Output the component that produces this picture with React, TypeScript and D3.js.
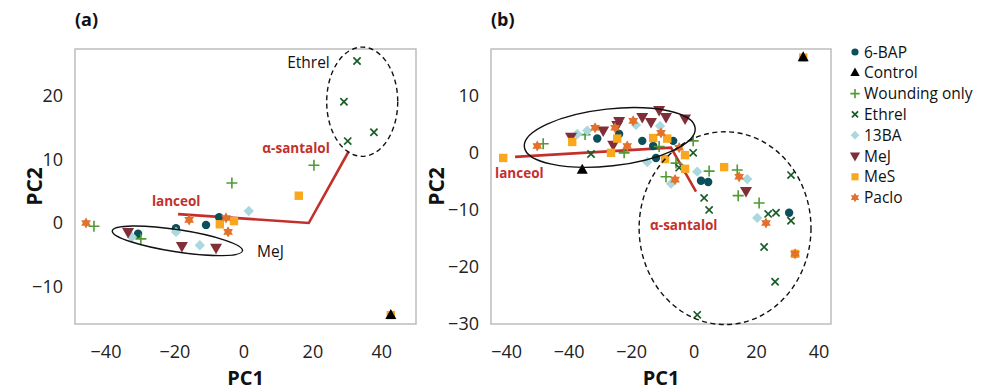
import React from 'react';
import * as d3 from 'd3';

// ---------- series meta ----------
const seriesNames = ['6-BAP', 'Control', 'Wounding only', 'Ethrel', '13BA', 'MeJ', 'MeS', 'Paclo'];
const seriesColors = ['#0b4f5b', '#000000', '#4f9a33', '#175c26', '#a9d9df', '#822e38', '#f9a81d', '#e2712b'];
const seriesShapes = ['circle', 'triUp', 'plus', 'cross', 'diamond', 'triDown', 'square', 'star'];
const drawOrder = [0, 2, 3, 4, 5, 6, 7, 1];

// ---------- panel (a) data ----------
const a_BAP = [[-30.7, -1.7], [-19.7, -0.8], [-11.0, -0.3], [-7.2, 0.9]];
const a_Control = [[42.6, -14.5]];
const a_Wounding = [[-43.5, -0.5], [-29.9, -2.5], [-3.5, 6.3], [20.3, 9.1]];
const a_Ethrel = [[32.8, 25.5], [29.0, 19.1], [37.7, 14.3], [30.1, 12.9]];
const a_13BA = [[-32.5, -2.2], [-19.7, -1.4], [-12.8, -3.5], [1.4, 1.9]];
const a_MeJ = [[-33.6, -1.4], [-18.0, -3.6], [-8.1, -3.9]];
const a_MeS = [[-7.0, -0.2], [-2.9, 0.3], [15.9, 4.3], [42.6, -14.5]];
const a_Paclo = [[-45.8, 0.0], [-15.9, 0.5], [-5.2, 0.8], [-4.6, -1.4]];
const a_Loadings = [[-19.1, 1.4], [18.8, 0.0], [30.4, 11.3]];

// ---------- panel (b) data ----------
const b_BAP = [[-31.0, 2.5], [-24.0, 3.3], [-16.6, 2.1], [-13.1, 1.2], [-12.2, -0.9], [-6.7, 2.1], [2.2, -4.9], [4.5, -5.1], [30.4, -10.5]];
const b_Control = [[-35.8, -3.0], [34.9, 16.7]];
const b_Wounding = [[-48.3, 1.6], [-34.9, 3.2], [-22.4, 0.0], [-11.2, 1.1], [-0.3, 2.1], [-5.8, -1.8], [-9.0, -4.2], [4.8, -3.2], [13.8, -3.0], [14.1, -7.5], [20.8, -8.8]];
const b_Ethrel = [[-33.0, -0.2], [-0.3, 0.0], [-4.8, -2.6], [3.2, -7.9], [4.8, -10.0], [23.7, -10.7], [26.2, -10.5], [31.0, -3.9], [31.0, -11.9], [22.4, -16.5], [25.9, -22.6], [1.0, -28.4]];
const b_13BA = [[-37.4, 3.3], [-34.2, 3.9], [-18.6, 4.9], [-10.9, 4.7], [-15.0, -1.6], [-7.4, -5.4], [1.0, -3.3], [17.0, -4.6], [20.2, -11.4]];
const b_MeJ = [[-39.4, 2.8], [-29.1, 3.9], [-24.6, 4.9], [-24.0, 5.6], [-25.9, 1.4], [-16.6, 6.3], [-13.8, 5.4], [-11.2, 7.5], [-9.0, 6.3], [-2.9, 6.0], [16.6, -6.7]];
const b_MeS = [[-61.1, -0.9], [-39.0, 1.9], [-24.6, 2.5], [-26.6, 0.0], [-13.1, 2.6], [-8.6, 2.5], [-2.9, -0.4], [-9.3, -1.1], [-2.9, -2.8], [9.6, -2.5], [32.3, -17.7], [34.9, 16.7]];
const b_Paclo = [[-50.2, 1.2], [-31.7, 4.4], [-25.3, 4.4], [-21.4, 1.2], [-19.5, 5.6], [-10.6, 3.5], [-4.8, 0.9], [-6.1, -4.7], [14.4, -4.2], [23.0, -12.3], [32.3, -17.7]];
const b_Loadings = [[-57.3, -0.7], [-7.4, 0.9], [0.6, -6.8]];

// ---------- ticks ----------
const a_xTicks = [-40, -20, 0, 20, 40];
const a_xTickLabels = ['−40', '−20', '0', '20', '40'];
const a_yTicks = [-10, 0, 10, 20];
const a_yTickLabels = ['−10', '0', '10', '20'];
const b_xTicks = [-60, -40, -20, 0, 20, 40];
const b_xTickLabels = ['−40', '−40', '−20', '0', '20', '40'];
const b_yTicks = [-30, -20, -10, 0, 10];
const b_yTickLabels = ['−30', '−20', '−10', '0', '10'];

// ---------- annotations (data units) ----------
const a_Ellipses = [
  { cx: -19.3, cy: -2.8, rx: 19.1, ry: 1.75, angle: 8.7, dashed: false },
  { cx: 34.3, cy: 19.1, rx: 10.3, ry: 8.6, angle: 0, dashed: true },
];
const b_Ellipses = [
  { cx: -27.0, cy: 2.7, rx: 27.5, ry: 5.0, angle: -6.3, dashed: false },
  { cx: 9.9, cy: -13.2, rx: 27.5, ry: 16.9, angle: 0, dashed: true },
];
const a_Labels = [
  { text: 'lanceol', x: -26.7, y: 2.7, anchor: 'start', red: true },
  { text: 'α-santalol', x: 24.9, y: 11.1, anchor: 'end', red: true },
  { text: 'Ethrel', x: 24.9, y: 24.4, anchor: 'end', red: false },
  { text: 'MeJ', x: 3.8, y: -5.4, anchor: 'start', red: false },
];
const b_Labels = [
  { text: 'lanceol', x: -63.7, y: -4.4, anchor: 'start', red: true },
  { text: 'α-santalol', x: -14.1, y: -13.5, anchor: 'start', red: true },
];

const FONT = "'Open Sans', 'Noto Sans', sans-serif";
const RED = '#c3302c';

function Marker({ shape, x, y, color, k = 1 }) {
  const t = `translate(${x},${y})`;
  switch (shape) {
    case 'circle':
      return <circle cx={x} cy={y} r={4.2 * k} fill={color} />;
    case 'triUp': {
      const w = 11 * k, h = 10 * k;
      return <path transform={t} d={`M0,${-h * 0.62}L${w / 2},${h * 0.38}L${-w / 2},${h * 0.38}Z`} fill={color} />;
    }
    case 'triDown': {
      const w = 12 * k, h = 10.5 * k;
      return <path transform={t} d={`M0,${h * 0.62}L${w / 2},${-h * 0.38}L${-w / 2},${-h * 0.38}Z`} fill={color} />;
    }
    case 'plus': {
      const s = 5.5 * k;
      return <path transform={t} d={`M${-s},0H${s}M0,${-s}V${s}`} stroke={color} strokeWidth={1.6} fill="none" />;
    }
    case 'cross': {
      const s = 3.6 * k;
      return <path transform={t} d={`M${-s},${-s}L${s},${s}M${-s},${s}L${s},${-s}`} stroke={color} strokeWidth={1.7} fill="none" />;
    }
    case 'diamond': {
      const s = 5.2 * k;
      return <path transform={t} d={`M0,${-s}L${s},0L0,${s}L${-s},0Z`} fill={color} />;
    }
    case 'square': {
      const s = 4.2 * k;
      return <rect x={x - s} y={y - s} width={2 * s} height={2 * s} fill={color} />;
    }
    case 'star': {
      const R = 5.6 * k, r = R / Math.sqrt(3);
      const pts = d3.range(12).map((i) => {
        const a = (i * Math.PI) / 6 - Math.PI / 2;
        const rr = i % 2 === 0 ? R : r;
        return [rr * Math.cos(a), rr * Math.sin(a)];
      });
      return <path transform={t} d={'M' + pts.map((p) => p.join(',')).join('L') + 'Z'} fill={color} />;
    }
    default:
      return null;
  }
}

function Panel({ cfg }) {
  const { frame, xDomain, yDomain, series, loadings, ellipses, labels, xTicks, xTickLabels, yTicks, yTickLabels, title, yTitleX } = cfg;
  const x = d3.scaleLinear().domain(xDomain).range([frame.l, frame.r]);
  const y = d3.scaleLinear().domain(yDomain).range([frame.b, frame.t]);
  const line = d3.line().x((d) => x(d[0])).y((d) => y(d[1]));
  const cxMid = (frame.l + frame.r) / 2;
  const cyMid = (frame.t + frame.b) / 2;
  return (
    <g fontFamily={FONT}>
      <text x={frame.l} y={26} fontSize={18} fontWeight="bold" fill="#111">{title}</text>
      <rect x={frame.l} y={frame.t} width={frame.r - frame.l} height={frame.b - frame.t} fill="none" stroke="#bdbdbd" strokeWidth={1.5} />
      {xTicks.map((v, i) => (
        <text key={'xt' + i} x={x(v)} y={358} textAnchor="middle" fontSize={18} fill="#222">{xTickLabels[i]}</text>
      ))}
      {yTicks.map((v, i) => (
        <text key={'yt' + i} x={frame.l - 12} y={y(v) + 6} textAnchor="end" fontSize={18} fill="#222">{yTickLabels[i]}</text>
      ))}
      <text x={cxMid} y={385} textAnchor="middle" fontSize={20} fontWeight="bold" fill="#111">PC1</text>
      <text transform={`translate(${yTitleX},${cyMid}) rotate(-90)`} textAnchor="middle" fontSize={21} fontWeight="bold" fill="#111">PC2</text>
      <path d={line(loadings)} fill="none" stroke={RED} strokeWidth={2.6} />
      {drawOrder.map((si) =>
        series[si].map((d, j) => (
          <Marker key={si + '-' + j} shape={seriesShapes[si]} x={x(d[0])} y={y(d[1])} color={seriesColors[si]} />
        ))
      )}
      {ellipses.map((e, i) => {
        const px = x(e.cx), py = y(e.cy);
        const rx = Math.abs(x(e.rx) - x(0)), ry = Math.abs(y(e.ry) - y(0));
        return (
          <ellipse key={'el' + i} cx={px} cy={py} rx={rx} ry={ry} transform={`rotate(${e.angle},${px},${py})`}
            fill="none" stroke="#111" strokeWidth={1.4} strokeDasharray={e.dashed ? '5,3.5' : null} />
        );
      })}
      {labels.map((l, i) => (
        <text key={'lb' + i} x={x(l.x)} y={y(l.y)} textAnchor={l.anchor} fontSize={l.red ? 13.5 : 15.5}
          fontWeight={l.red ? 'bold' : 'normal'} fill={l.red ? RED : '#111'}>{l.text}</text>
      ))}
    </g>
  );
}

const panelA = {
  title: '(a)',
  frame: { l: 75, t: 49, r: 416, b: 324 },
  xDomain: [-49, 49.9],
  yDomain: [-15.9, 27.4],
  series: [a_BAP, a_Control, a_Wounding, a_Ethrel, a_13BA, a_MeJ, a_MeS, a_Paclo],
  loadings: a_Loadings,
  ellipses: a_Ellipses,
  labels: a_Labels,
  xTicks: a_xTicks, xTickLabels: a_xTickLabels, yTicks: a_yTicks, yTickLabels: a_yTickLabels,
  yTitleX: 42,
};
const panelB = {
  title: '(b)',
  frame: { l: 491, t: 49, r: 831, b: 324 },
  xDomain: [-65, 43.8],
  yDomain: [-30, 18.2],
  series: [b_BAP, b_Control, b_Wounding, b_Ethrel, b_13BA, b_MeJ, b_MeS, b_Paclo],
  loadings: b_Loadings,
  ellipses: b_Ellipses,
  labels: b_Labels,
  xTicks: b_xTicks, xTickLabels: b_xTickLabels, yTicks: b_yTicks, yTickLabels: b_yTickLabels,
  yTitleX: 444,
};

export default function App() {
  const legendY0 = 52, legendStep = 20.8;
  return (
    <svg width={982} height={390} style={{ position: 'absolute', left: 0, top: 0, background: '#fff' }}>
      <rect width={982} height={390} fill="#fff" />
      <Panel cfg={panelA} />
      <Panel cfg={panelB} />
      <g fontFamily={FONT}>
        {seriesNames.map((n, i) => (
          <g key={n}>
            <Marker shape={seriesShapes[i]} x={855} y={legendY0 + i * legendStep} color={seriesColors[i]} k={0.85} />
            <text x={864} y={legendY0 + i * legendStep + 5.5} fontSize={15.5} fill="#111">{n}</text>
          </g>
        ))}
      </g>
    </svg>
  );
}
